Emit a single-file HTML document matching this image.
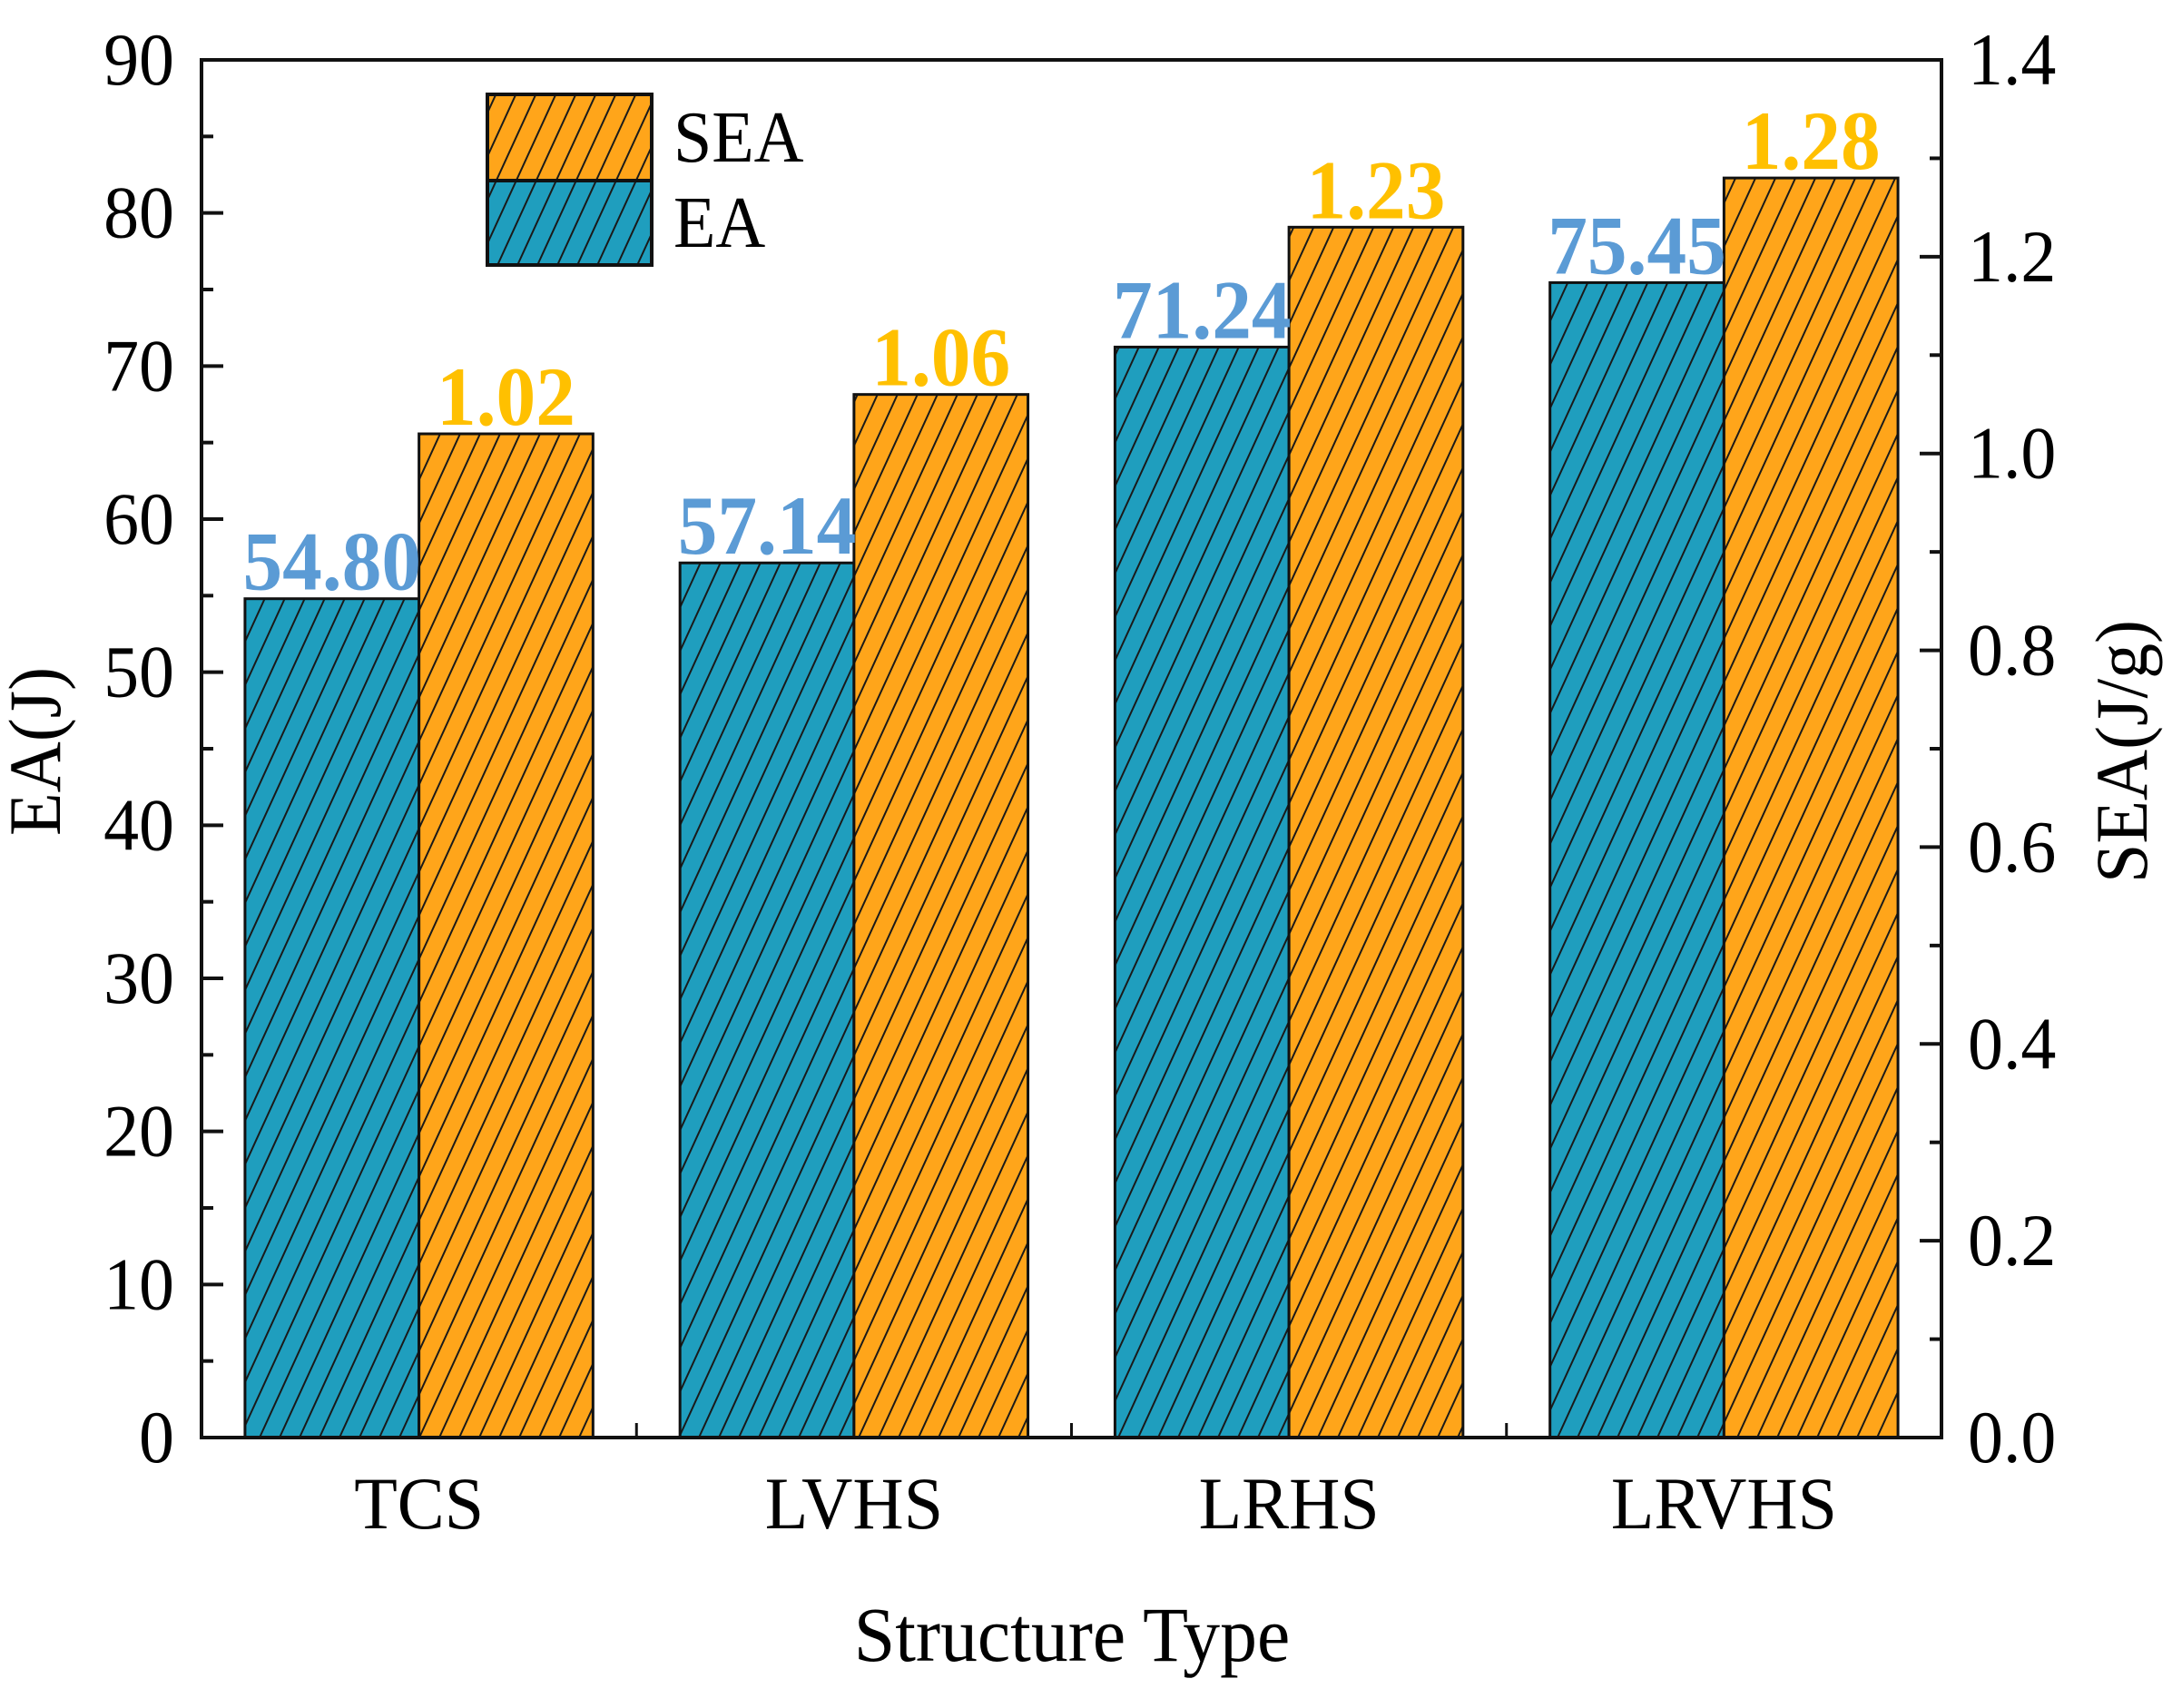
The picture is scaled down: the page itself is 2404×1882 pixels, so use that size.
<!DOCTYPE html>
<html><head><meta charset="utf-8">
<style>html,body{margin:0;padding:0;background:#fff;}svg{display:block;}</style>
</head><body>
<svg id="chart" width="2404" height="1882" viewBox="0 0 2404 1882" xmlns="http://www.w3.org/2000/svg">
<defs>
<pattern id="hatch" patternUnits="userSpaceOnUse" width="22" height="48">
<line x1="-11" y1="72" x2="33" y2="-24" stroke="#1a1a1a" stroke-width="2"/>
<line x1="11" y1="72" x2="55" y2="-24" stroke="#1a1a1a" stroke-width="2"/>
<line x1="-33" y1="72" x2="11" y2="-24" stroke="#1a1a1a" stroke-width="2"/>
</pattern>
</defs>
<g id="layer"></g>
</svg>
<script>
const categories = ["TCS", "LVHS", "LRHS", "LRVHS"];
const eaValues = [54.80, 57.14, 71.24, 75.45];
const seaValues = [1.02, 1.06, 1.23, 1.28];
const eaLabels = ["54.80", "57.14", "71.24", "75.45"];
const seaLabels = ["1.02", "1.06", "1.23", "1.28"];
const leftTicks = [0, 10, 20, 30, 40, 50, 60, 70, 80, 90];
const rightTicks = [0.0, 0.2, 0.4, 0.6, 0.8, 1.0, 1.2, 1.4];

const NS = "http://www.w3.org/2000/svg";
const L = 222, R = 2139, T = 66, B = 1584;
const eaMax = 90, seaMax = 1.4;
const band = (R - L) / categories.length;
const barW = band * 0.4;
const yEA = v => B - v / eaMax * (B - T);
const ySEA = v => B - v / seaMax * (B - T);
const xC = i => L + band * (i + 0.5);
const g = document.getElementById("layer");
const FONT = '"Liberation Serif", "Times New Roman", serif';
const SX = 0.95;

function mk(tag, attrs) {
  const e = document.createElementNS(NS, tag);
  for (const k in attrs) e.setAttribute(k, attrs[k]);
  g.appendChild(e);
  return e;
}
function txt(str, x, y, size, anchor, fill, weight, rot) {
  const e = mk("text", {
    transform: "translate(" + x + "," + y + ")" + (rot ? " rotate(" + rot + ")" : "") + " scale(" + SX + ",1)",
    "font-family": FONT, "font-size": size, "text-anchor": anchor, fill: fill, "font-weight": weight || "normal"
  });
  e.textContent = str;
  return e;
}

categories.forEach((c, i) => {
  const cx = xC(i);
  const y1 = yEA(eaValues[i]);
  let r = mk("rect", {x: cx - barW, y: y1, width: barW, height: B - y1, fill: "#1F9EBE", stroke: "none"});
  
  
  let h = mk("rect", {x: cx - barW, y: y1, width: barW, height: B - y1, fill: "url(#hatch)", stroke: "#111", "stroke-width": 3});
  
  
  const y2 = ySEA(seaValues[i]);
  r = mk("rect", {x: cx, y: y2, width: barW, height: B - y2, fill: "#FFA51A", stroke: "none"});
  
  
  h = mk("rect", {x: cx, y: y2, width: barW, height: B - y2, fill: "url(#hatch)", stroke: "#111", "stroke-width": 3});
  
  
  let t = txt(eaLabels[i], cx - barW / 2, y1 - 10, 92, "middle", "#5B9BD5", "bold");
  
  
  t = txt(seaLabels[i], cx + barW / 2, y2 - 10, 92, "middle", "#FFC000", "bold");
  
  
  t = txt(c, cx, 1684, 82, "middle", "#000");
  
  
});

const fr = mk("rect", {x: L, y: T, width: R - L, height: B - T, fill: "none", stroke: "#111", "stroke-width": 4});



leftTicks.forEach(v => {
  const y = yEA(v);
  let l = mk("line", {x1: L, x2: L + 24, y1: y, y2: y, stroke: "#111", "stroke-width": 4});
  
  
  if (v < eaMax) {
    const ym = yEA(v + 5);
    l = mk("line", {x1: L, x2: L + 13, y1: ym, y2: ym, stroke: "#111", "stroke-width": 4});
    
    
  }
  const t = txt(String(v), 192, y + 27, 82, "end", "#000");
  
  
});
rightTicks.forEach(v => {
  const y = ySEA(v);
  let l = mk("line", {x1: R - 24, x2: R, y1: y, y2: y, stroke: "#111", "stroke-width": 4});
  
  
  if (v < seaMax - 0.01) {
    const ym = ySEA(v + 0.1);
    l = mk("line", {x1: R - 13, x2: R, y1: ym, y2: ym, stroke: "#111", "stroke-width": 4});
    
    
  }
  const t = txt(v.toFixed(1), 2168, y + 27, 82, "start", "#000");
  
  
});
for (let i = 1; i < categories.length; i++) {
  const x = L + band * i;
  const l = mk("line", {x1: x, x2: x, y1: B, y2: B - 16, stroke: "#111", "stroke-width": 3});
  
  
}

let t = txt("EA(J)", 66, 828, 82, "middle", "#000", "normal", -90);


t = txt("SEA(J/g)", 2365, 828, 82, "middle", "#000", "normal", -90);


t = txt("Structure Type", 1181, 1830, 86, "middle", "#000");



let lr = mk("rect", {x: 537, y: 104, width: 181, height: 95, fill: "#FFA51A"});


lr = mk("rect", {x: 537, y: 104, width: 181, height: 95, fill: "url(#hatch)", stroke: "#111", "stroke-width": 4});


lr = mk("rect", {x: 537, y: 199, width: 181, height: 93, fill: "#1F9EBE"});


lr = mk("rect", {x: 537, y: 199, width: 181, height: 93, fill: "url(#hatch)", stroke: "#111", "stroke-width": 4});


t = txt("SEA", 742, 178, 80, "start", "#000");


t = txt("EA", 742, 272, 80, "start", "#000");


</script>
</body></html>
